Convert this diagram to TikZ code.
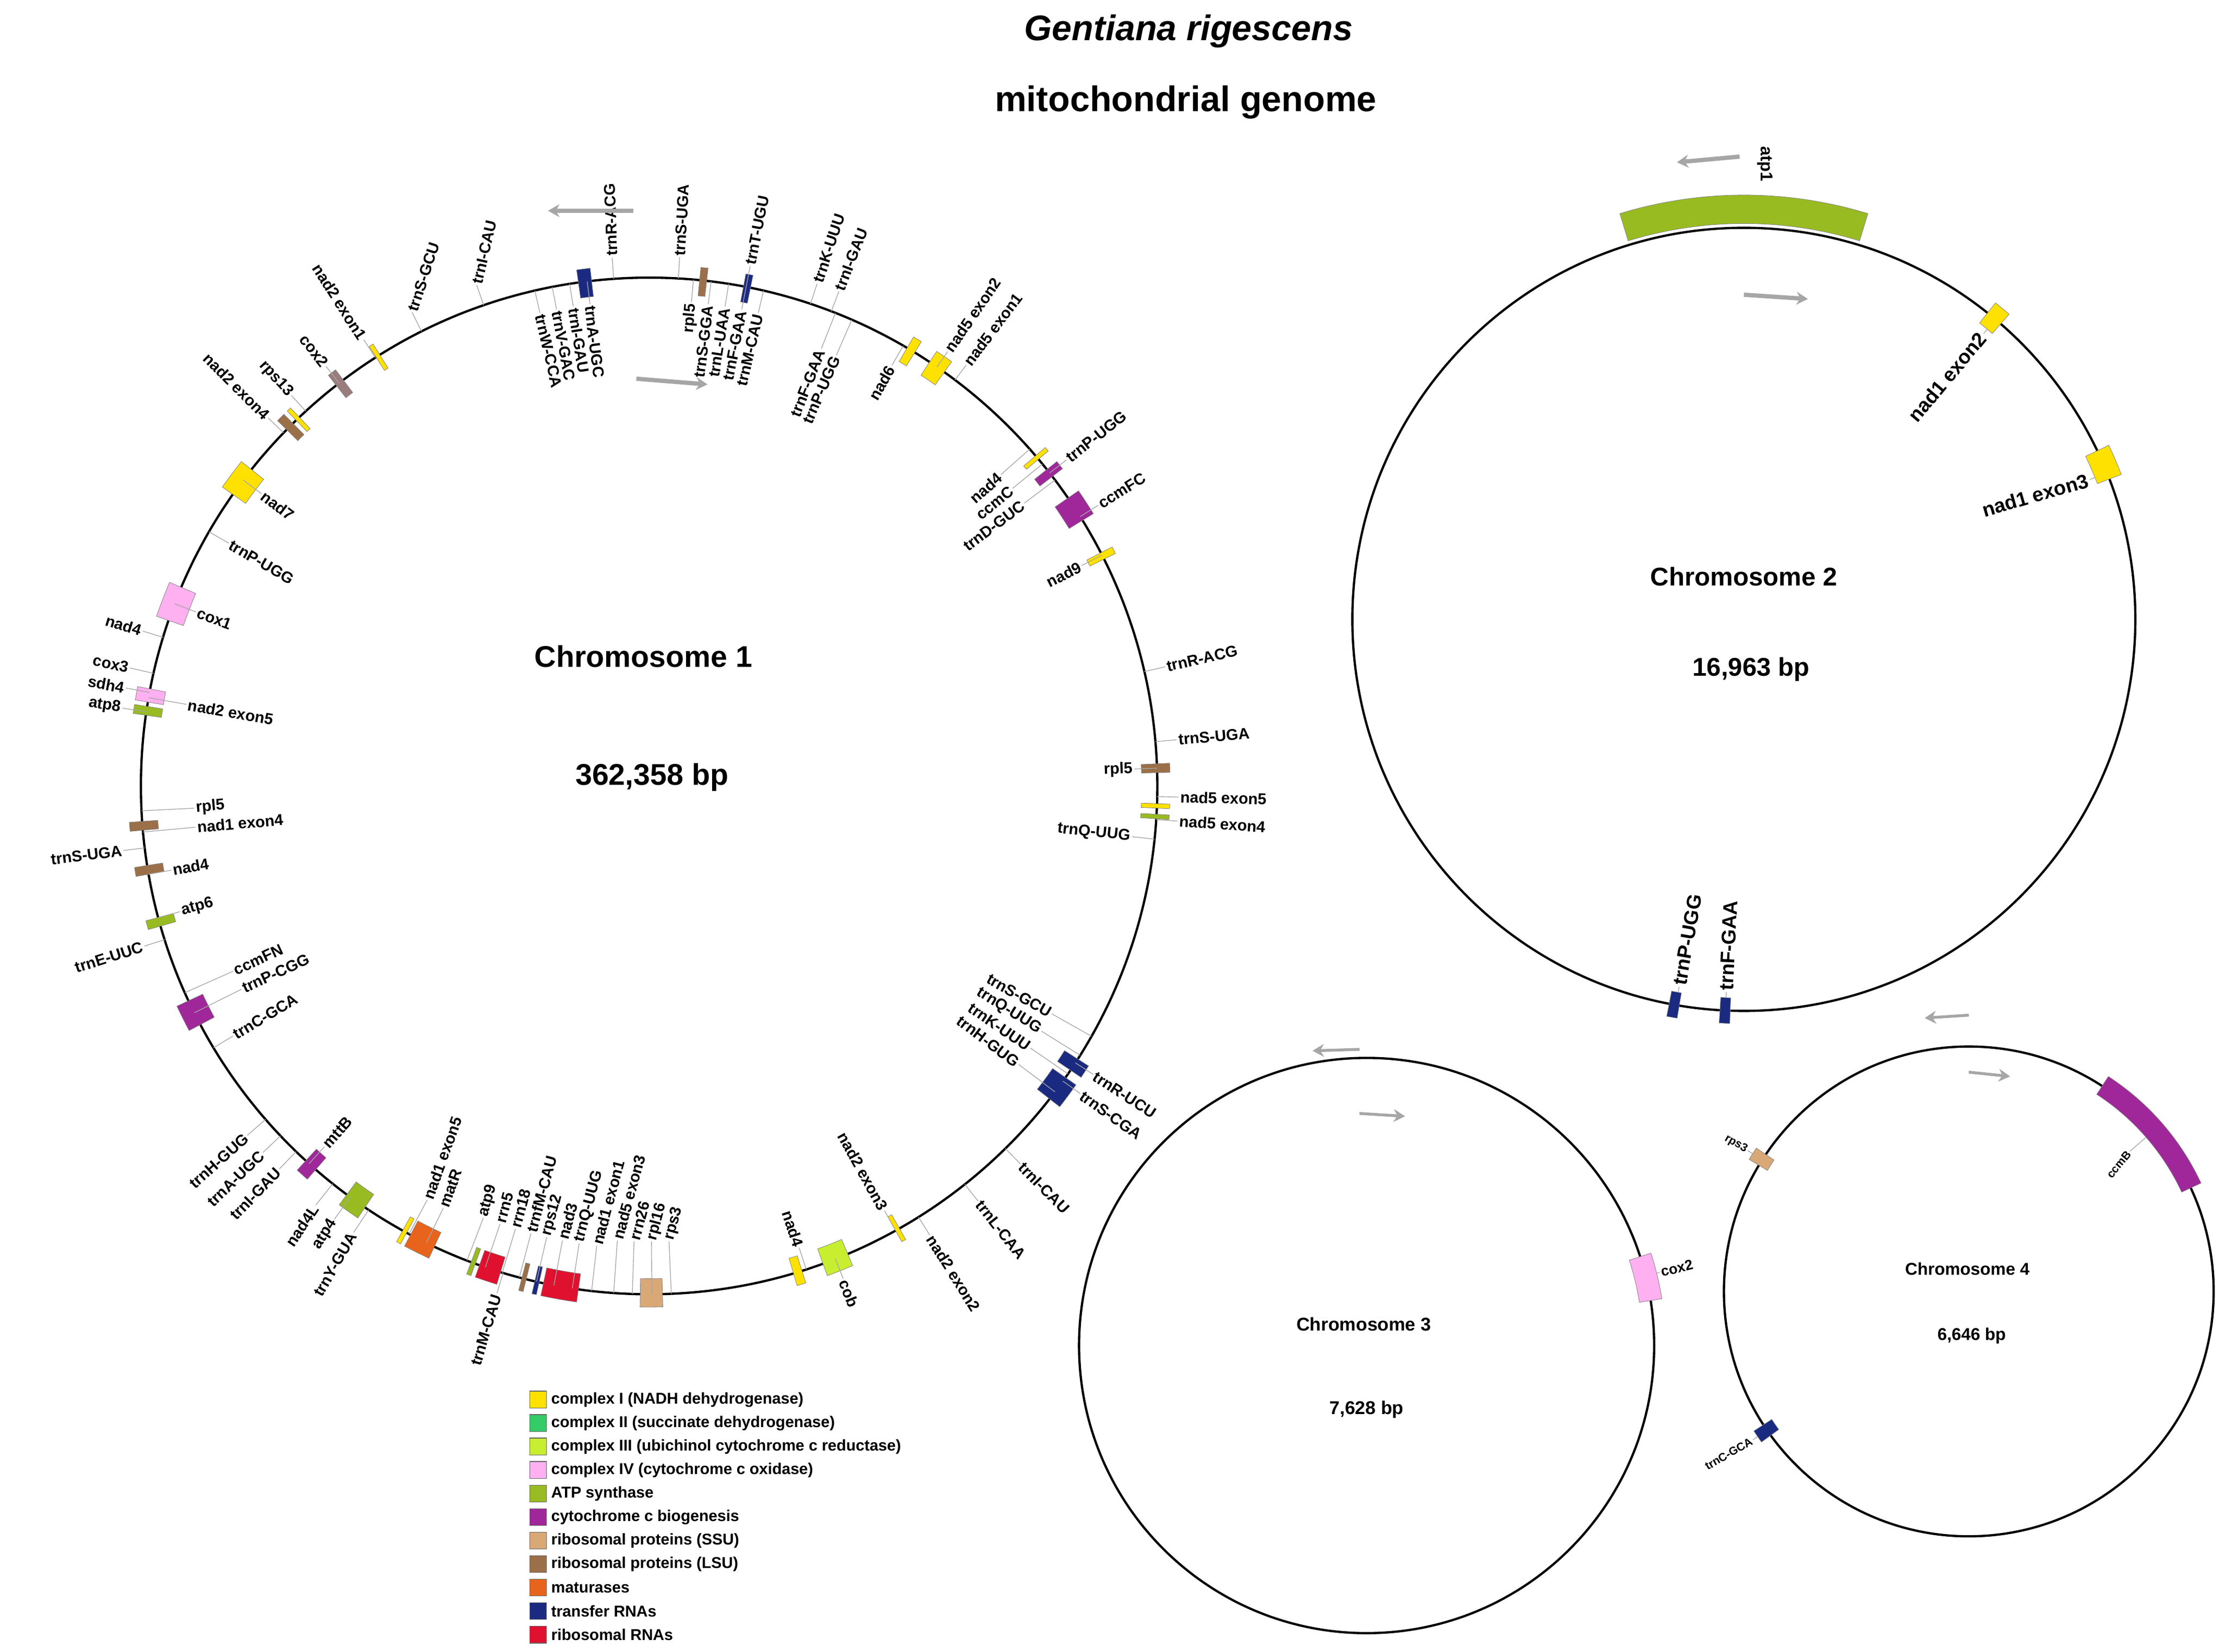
\documentclass[tikz,border=0pt]{standalone}
\usepackage{fontspec}
\setmainfont{Liberation Sans}
\usetikzlibrary{arrows.meta}
\definecolor{cI}{HTML}{FFE100}
\definecolor{cII}{HTML}{33CC66}
\definecolor{cIII}{HTML}{C8EE30}
\definecolor{cIV}{HTML}{FFB0F0}
\definecolor{cATP}{HTML}{99BB22}
\definecolor{cCCM}{HTML}{A0279A}
\definecolor{cSSU}{HTML}{D9A877}
\definecolor{cLSU}{HTML}{9B7048}
\definecolor{cMAT}{HTML}{E8641C}
\definecolor{cTRNA}{HTML}{1A2A80}
\definecolor{cRRNA}{HTML}{E0102F}
\definecolor{cMAU}{HTML}{9B7C7C}
\newcommand\gn[3]{\fill[#3,draw=black!50,line width=.3pt] (#1:\ri) arc[start angle=#1,end angle=#2,radius=\ri] -- (#2:\ro) arc[start angle=#2,end angle=#1,radius=\ro] -- cycle;}
\newcommand\lab[6]{\draw[lead] (#1:#2pt) -- (#1:#3pt) node[lbl,rotate=#4,anchor=#5]{#6};}
\tikzset{lead/.style={draw=black!35,line width=.5pt},
 ring/.style={line width=1.6pt,draw=black},
 garrow/.style={line width=3pt,draw=black!35,-{Stealth[length=8pt,width=9pt]}},
 leg/.style={font=\bfseries\fontsize{11}{13}\selectfont,anchor=west,inner sep=1pt}}
\begin{document}
\begin{tikzpicture}[x=1pt,y=1pt]
\useasboundingbox (0,0) rectangle (1563,1160);
\fill[white] (0,0) rectangle (1563,1160);
\node (t1) at (835,1138) {\fontsize{25}{29}\selectfont\bfseries\itshape Gentiana rigescens};
\node (t2) at (833,1088) {\fontsize{25}{29}\selectfont\bfseries mitochondrial genome};
% ---------- Chromosome 1
\begin{scope}[shift={(456,608)},lbl/.style={font=\bfseries\fontsize{11}{13}\selectfont,inner sep=1pt}]
\def\ri{346pt}\def\ro{366pt}
\draw[ring] (0,0) circle[radius=357pt];
\gn{98}{96.5}{cTRNA}\gn{84.3}{83.5}{cLSU}\gn{79.3}{78.5}{cTRNA}
\gn{59.5}{58.5}{cI}\gn{56.5}{54.5}{cI}\gn{40.5}{40}{cI}\gn{38.5}{37.5}{cCCM}
\gn{34.5}{31.5}{cCCM}\gn{27.3}{26.5}{cI}\gn{2.5}{1.5}{cLSU}
\gn{-2}{-2.5}{cI}\gn{-3.2}{-3.7}{cATP}\gn{-32.5}{-34}{cTRNA}\gn{-35}{-38}{cTRNA}
\gn{-60.5}{-61}{cI}\gn{-67}{-70}{cIII}\gn{-72.5}{-73.5}{cI}\gn{-88.5}{-91}{cSSU}
\gn{-98}{-102}{cRRNA}\gn{-102.5}{-103}{cTRNA}\gn{-104}{-104.5}{cLSU}
\gn{-107}{-109.5}{cRRNA}\gn{-110}{-110.5}{cATP}\gn{-115}{-118}{cMAT}\gn{-118.5}{-119}{cI}
\gn{-124}{-126.5}{cATP}\gn{227.5}{229}{cCCM}\gn{205}{208}{cCCM}\gn{195}{196}{cATP}
\gn{189}{190}{cLSU}\gn{184}{185}{cLSU}\gn{171}{172}{cATP}\gn{169}{170.5}{cIV}
\gn{157}{161}{cIV}\gn{141.5}{145}{cI}\gn{134.5}{135.5}{cLSU}\gn{133.5}{134}{cI}
\gn{127}{128}{cMAU}\gn{122}{122.5}{cI}
% outside labels
\lab{94}{357}{372}{92}{west}{trnR-ACG}
\lab{86.7}{357}{372}{86.7}{west}{trnS-UGA}
\lab{79}{357}{372}{79}{west}{trnT-UGU}
\lab{71.5}{357}{372}{71.5}{west}{trnK-UUU}
\lab{69}{357}{372}{69}{west}{trnI-GAU}
\lab{55.5}{357}{370}{55.5}{west}{nad5 exon2}
\lab{53}{357}{370}{53}{west}{nad5 exon1}
\lab{38}{357}{372}{38}{west}{trnP-UGG}
\lab{32}{357}{372}{32}{west}{ccmFC}
\lab{13}{357}{372}{13}{west}{trnR-ACG}
\lab{5}{357}{372}{5}{west}{trnS-UGA}
\lab{-1.2}{357}{372}{-1.2}{west}{nad5 exon5}
\lab{-3.8}{357}{372}{-3.8}{west}{nad5 exon4}
\lab{-33}{357}{372}{-33}{west}{trnR-UCU}
\lab{-35.5}{357}{372}{-35.5}{west}{trnS-CGA}
\lab{-45.5}{357}{372}{-45.5}{west}{trnI-CAU}
\lab{-51.6}{357}{372}{-51.6}{west}{trnL-CAA}
\lab{-58}{357}{372}{-58}{west}{nad2 exon2}
\lab{-68.5}{357}{372}{-68.5}{west}{cob}
\lab{-106.7}{357}{372}{73.3}{east}{trnM-CAU}
\lab{-128.5}{357}{376}{56}{east}{nad4L}
\lab{-126}{357}{376}{58}{east}{atp4}
\lab{-123.5}{357}{376}{60}{east}{trnY-GUA}
\lab{-139}{357}{374}{42}{east}{trnH-GUG}
\lab{-136.5}{357}{374}{44}{east}{trnA-UGC}
\lab{-134}{357}{374}{46}{east}{trnI-GAU}
\lab{197.6}{357}{372}{17.6}{east}{trnE-UUC}
\lab{187}{357}{372}{7}{east}{trnS-UGA}
\lab{167.2}{357}{374}{-12.6}{east}{cox3}
\lab{169.4}{357}{374}{-10.6}{east}{sdh4}
\lab{171.6}{357}{374}{-8.7}{east}{atp8}
\lab{163}{357}{372}{-17}{east}{nad4}
\lab{136}{357}{372}{-45}{east}{nad2 exon4}
\lab{132.5}{357}{372}{-47.5}{east}{rps13}
\lab{127.6}{357}{372}{-52.4}{east}{cox2}
\lab{122.6}{357}{372}{-57.4}{east}{nad2 exon1}
\lab{116.6}{357}{372}{72}{west}{trnS-GCU}
\lab{109}{357}{372}{77}{west}{trnI-CAU}
% inside labels
\lab{103}{357}{341}{-77}{west}{trnW-CCA}
\lab{101}{357}{341}{-79}{west}{trnV-GAC}
\lab{99}{357}{341}{-81}{west}{trnI-GAU}
\lab{97}{357}{341}{-83}{west}{trnA-UGC}
\lab{85}{357}{341}{85}{east}{rpl5}
\lab{83}{357}{341}{83}{east}{trnS-GGA}
\lab{81}{357}{341}{81}{east}{trnL-UAA}
\lab{79}{357}{341}{79}{east}{trnF-GAA}
\lab{77}{357}{341}{77}{east}{trnM-CAU}
\lab{68.5}{357}{330}{68.5}{east}{trnF-GAA}
\lab{66.5}{357}{330}{66.5}{east}{trnP-UGG}
\lab{60}{357}{341}{60}{east}{nad6}
\lab{41.5}{357}{330}{41.5}{east}{nad4}
\lab{39.3}{357}{330}{39.3}{east}{ccmC}
\lab{37}{357}{330}{37}{east}{trnD-GUC}
\lab{27}{357}{341}{27}{east}{nad9}
\lab{2}{357}{341}{2}{east}{rpl5}
\lab{-6}{357}{341}{-6}{east}{trnQ-UUG}
\lab{-29.5}{357}{325}{-29.5}{east}{trnS-GCU}
\lab{-32}{357}{325}{-32}{east}{trnQ-UUG}
\lab{-34.5}{357}{325}{-34.5}{east}{trnK-UUU}
\lab{-37}{357}{325}{-37}{east}{trnH-GUG}
\lab{-61}{357}{341}{-61}{east}{nad2 exon3}
\lab{-72}{357}{341}{-72}{east}{nad4}
\lab{-87.5}{357}{320}{75}{west}{rps3}
\lab{-89.7}{357}{320}{75}{west}{rpl16}
\lab{-91.9}{357}{320}{75}{west}{rrn26}
\lab{-94}{357}{320}{75}{west}{nad5 exon3}
\lab{-96.5}{357}{325}{75}{west}{nad1 exon1}
\lab{-98.7}{357}{325}{75}{west}{trnQ-UUG}
\lab{-100.8}{357}{325}{75}{west}{nad3}
\lab{-102.8}{357}{325}{75}{west}{rps12}
\lab{-104.8}{357}{325}{75}{west}{trnfM-CAU}
\lab{-106.8}{357}{325}{75}{west}{rrn18}
\lab{-108.8}{357}{325}{75}{west}{rrn5}
\lab{-111}{357}{325}{75}{west}{atp9}
\lab{-116}{357}{330}{70}{west}{matR}
\lab{-118.2}{357}{330}{70}{west}{nad1 exon5}
\lab{228}{357}{341}{48}{west}{mttB}
\lab{211}{357}{341}{31}{west}{trnC-GCA}
\lab{204}{357}{320}{25}{west}{ccmFN}
\lab{206.5}{357}{320}{25}{west}{trnP-CGG}
\lab{195}{357}{341}{15}{west}{atp6}
\lab{190}{357}{341}{10}{west}{nad4}
\lab{182.8}{357}{320}{5}{west}{rpl5}
\lab{185.2}{357}{320}{5}{west}{nad1 exon4}
\lab{170}{357}{330}{-10}{west}{nad2 exon5}
\lab{159}{357}{341}{-20}{west}{cox1}
\lab{150}{357}{341}{-30}{west}{trnP-UGG}
\lab{143}{357}{341}{-37}{west}{nad7}
\node[font=\bfseries\fontsize{21}{25}\selectfont] (c1) at (-4,91) {Chromosome 1};
\node[font=\bfseries\fontsize{21}{25}\selectfont] (b1) at (2,6) {362,358 bp};
\end{scope}
\draw[garrow] (445,1012) -- (385,1012);
\draw[garrow] (447,894) -- (497,890);
% ---------- Chromosome 2
\begin{scope}[shift={(1225,725)},lbl/.style={font=\bfseries\fontsize{14}{16}\selectfont,inner sep=1pt}]
\draw[ring] (0,0) circle[radius=275pt];
\def\ri{278pt}\def\ro{298pt}\gn{73}{107}{cATP}
\def\ri{266pt}\def\ro{284pt}
\gn{49}{51.5}{cI}\gn{21}{25.5}{cI}\gn{-99.5}{-101}{cTRNA}\gn{-92}{-93.5}{cTRNA}
\lab{50}{266}{262}{50}{east}{nad1 exon2}
\lab{22}{266}{262}{16}{east}{nad1 exon3}
\lab{-100}{266}{262}{80}{west}{trnP-UGG}
\lab{-92.7}{266}{262}{87.3}{west}{trnF-GAA}
\node[font=\bfseries\fontsize{18}{21}\selectfont] (c2) at (0,30) {Chromosome 2};
\node[font=\bfseries\fontsize{18}{21}\selectfont] (b2) at (5,-35) {16,963 bp};
\end{scope}
\node[font=\bfseries\fontsize{12}{14}\selectfont,rotate=-90] (a1) at (1240,1045) {atp1};
\draw[garrow] (1222,1050) -- (1178,1046);
\draw[garrow] (1225,953) -- (1270,950);
% ---------- Chromosome 3
\begin{scope}[shift={(960,215)},lbl/.style={font=\bfseries\fontsize{10}{12}\selectfont,inner sep=1pt}]
\draw[ring] (0,0) circle[radius=202pt];
\def\ri{194pt}\def\ro{210pt}\gn{9}{18}{cIV}
\lab{14}{210}{212}{14}{west}{cox2}
\node[font=\bfseries\fontsize{13}{15}\selectfont] (c3) at (-2,15) {Chromosome 3};
\node[font=\bfseries\fontsize{13}{15}\selectfont] (b3) at (0,-45) {7,628 bp};
\end{scope}
\draw[garrow,line width=2pt] (955,423) -- (922,422);
\draw[garrow,line width=2pt] (955,378) -- (987,376);
% ---------- Chromosome 4
\begin{scope}[shift={(1383,253)},lbl/.style={font=\bfseries\fontsize{8}{10}\selectfont,inner sep=1pt}]
\draw[ring] (0,0) circle[radius=172pt];
\def\ri{165pt}\def\ro{180pt}
\gn{25}{57}{cCCM}\gn{146}{149}{cSSU}\gn{213}{216}{cTRNA}
\lab{41}{165}{150}{50}{east}{ccmB}
\lab{147.5}{180}{184}{-30}{east}{rps3}
\lab{214.5}{180}{184}{30}{east}{trnC-GCA}
\node[font=\bfseries\fontsize{12}{14}\selectfont] (c4) at (-1,16) {Chromosome 4};
\node[font=\bfseries\fontsize{12}{14}\selectfont] (b4) at (2,-31) {6,646 bp};
\end{scope}
\draw[garrow,line width=2pt] (1383,447) -- (1352,445);
\draw[garrow,line width=2pt] (1383,407) -- (1412,404);
% ---------- Legend
\foreach \c/\t [count=\i from 0] in {cI/complex I (NADH dehydrogenase),cII/complex II (succinate dehydrogenase),cIII/complex III (ubichinol cytochrome c reductase),cIV/complex IV (cytochrome c oxidase),cATP/ATP synthase,cCCM/cytochrome c biogenesis,cSSU/ribosomal proteins (SSU),cLSU/ribosomal proteins (LSU),cMAT/maturases,cTRNA/transfer RNAs,cRRNA/ribosomal RNAs}{
 \fill[\c,draw=black!60,line width=.4pt] (372,{171-16.5*\i}) rectangle (384,{183-16.5*\i});
 \node[leg] (l\i) at (386,{177-16.5*\i}) {\t};
}
\end{tikzpicture}
\end{document}
